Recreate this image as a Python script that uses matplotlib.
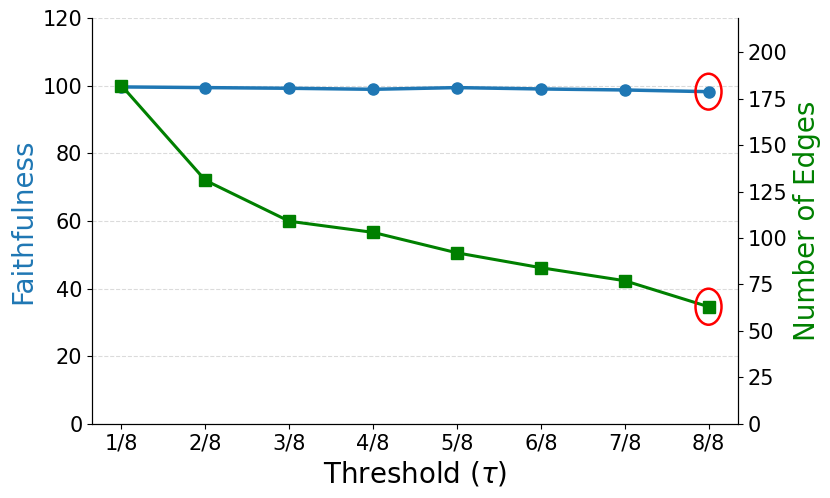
import matplotlib
matplotlib.use('Agg')
import matplotlib.pyplot as plt
from matplotlib.patches import Ellipse
import numpy as np

thresholds = ['1/8', '2/8', '3/8', '4/8', '5/8', '6/8', '7/8', '8/8']
faithfulness = [99.6, 99.4, 99.2, 98.9, 99.4, 99.0, 98.7, 98.2]
faith_err = [0.3, 0.8, 0.6, 0.4, 0.5, 0.4, 0.4, 0.4]
edges = [182, 131, 109, 103, 92, 84, 77, 63]

x = np.arange(len(thresholds))

fig, ax1 = plt.subplots(figsize=(8.3, 4.98), dpi=100)
ax1.errorbar(x, faithfulness, yerr=faith_err, color='tab:blue', marker='o',
             markersize=8, linewidth=2.5, capsize=3, zorder=3)
ax1.set_ylim(0, 120)
ax1.set_ylabel('Faithfulness', color='tab:blue', fontsize=20)
ax1.set_xlabel(r'Threshold ($\tau$)', fontsize=20)
ax1.set_xticks(x)
ax1.set_xticklabels(thresholds)
ax1.tick_params(labelsize=15)
ax1.grid(axis='y', linestyle='--', color='lightgray', alpha=0.8)
ax1.spines['top'].set_visible(False)

ax2 = ax1.twinx()
ax2.plot(x, edges, color='green', marker='s', markersize=8, linewidth=2.2)
ax2.set_ylim(0, max(edges) * 1.2)
ax2.set_yticks(np.arange(0, 201, 25))
ax2.set_ylabel('Number of Edges', color='green', fontsize=20)
ax2.tick_params(labelsize=15)
ax2.spines['top'].set_visible(False)

# highlight the last points
ax1.add_patch(Ellipse((x[-1], faithfulness[-1]), 0.31, 10.6, fill=False,
                      edgecolor='red', linewidth=1.8, zorder=4))
ax2.add_patch(Ellipse((x[-1], edges[-1]), 0.31, 19.4, fill=False,
                      edgecolor='red', linewidth=1.8, zorder=4))

plt.subplots_adjust(left=0.111, right=0.889, top=0.964, bottom=0.149)
plt.savefig('out.png', dpi=100)
